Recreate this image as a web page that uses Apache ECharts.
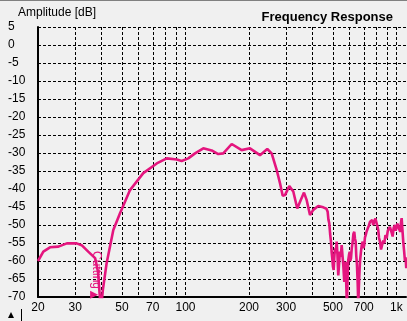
<!DOCTYPE html>
<html><head><meta charset="utf-8">
<script src="https://cdn.jsdelivr.net/npm/echarts@6/dist/echarts.min.js"></script>
<style>html,body{margin:0;padding:0;background:#f0f0f0}#c{width:407px;height:321px}</style>
</head><body><div id="c"></div>
<script>
const freq = [20,21.2,22.8,25.0,27.4,30.5,32.2,34.6,37.3,38.5,39.4,40.0,40.6,42.3,45.5,48.9,54.6,63.1,73.1,81.5,90.9,95.9,103.1,111,121.5,133.1,143,151.1,165.6,184.7,202.2,225.5,244.2,256.2,270.6,280.6,289,296.3,310.5,324.4,338.8,351.6,364.6,375.5,389.3,403.4,426,450,
  458.4,466,472,476,480.4,485,489.4,493,496.4,500,504,507.5,511.2,515,520.8,525,530,535,539.8,545,550,555,559.8,566,570,574.6,578,582.8,587,591.2,596,600.4,604,608.8,614,620.2,625,631.2,636,640.8,645,650,655,659.2,663,666.4,672,679,685,691.8,697,703.8,709,714.8,722,730.6,740,749.2,758,768.2,776,785,795,805.8,812,820,827,835.6,845,856.8,866,875.6,887,898.8,910,921.6,931,942,950,959.4,970,983.8,992,1002,1011,1020,1031,1042.6,1050,1058.6,1068,1077.2,1088,1097.2,1105,1113];
const amp = [-60,-57.4,-56.2,-56.0,-55.1,-55.1,-55.6,-57.4,-59.2,-63,-71,-72,-68,-60.6,-51.4,-46.8,-40.3,-35.6,-32.9,-31.5,-31.8,-32.2,-31.5,-30.1,-28.7,-29.3,-30.3,-30.1,-27.5,-29.2,-28.7,-30.6,-28.9,-30.1,-34.7,-38.4,-41.9,-41.7,-39.2,-40.7,-45.4,-43.1,-41.0,-43.1,-47.2,-45.8,-44.7,-45.1,
  -44.9,-45.5,-46.3,-48.5,-49.5,-52.5,-54.6,-57.5,-59.3,-61.5,-62.5,-59,-56.5,-57.8,-54.6,-58,-64,-60.5,-57.4,-58.8,-55.6,-58.5,-61.1,-65.8,-62.5,-60.2,-66,-73,-64,-59.7,-58.3,-57.4,-60,-59.3,-56.5,-54.6,-52.5,-51.9,-53.8,-54.6,-58.5,-61.1,-66,-72,-68,-64.4,-60,-57.4,-55.5,-54.6,-56.4,-55.6,-53.5,-52.8,-51.8,-51.0,-50.2,-49.1,-49.6,-48.6,-50,-49.5,-48.2,-48.6,-50.3,-51.4,-53.6,-54.6,-56.8,-56.5,-54.3,-55.1,-52.8,-53.7,-51.6,-51.9,-50.5,-51.0,-52.2,-53.2,-50.8,-50,-51.6,-51.4,-49.6,-49.1,-51.2,-51.9,-49.5,-48.1,-51.5,-54.6,-57.4,-60,-59,-62];
const xGridValues = [20,30,40,50,60,70,80,90,100,200,300,400,500,600,700,800,900,1000];
const xLabelValues = [20,30,50,70,100,200,300,500,700,1000];
const cutFreq = 38.0, cutAmp = -62.5, cutMarkFreq = 36.9, cutMarkAmp = -69.4;

const PINK = '#e4157e';
const FONT = 'Liberation Sans';
const chart = echarts.init(document.getElementById('c'), null, {renderer:'canvas'});
chart.setOption({
  backgroundColor: '#f0f0f0',
  animation: false,
  title: [
    {text:'Frequency Response', right: 9, top: 6, textStyle:{fontFamily:FONT, fontSize:13, fontWeight:'bold', color:'#000'}},
    {text:'Amplitude [dB]', left: 13, top: 2, textStyle:{fontFamily:FONT, fontSize:12, fontWeight:'normal', color:'#000'}}
  ],
  grid: {left:38, right:1, top:27, bottom:24, containLabel:false, outerBoundsMode:'none'},
  xAxis: {
    type:'log', logBase:10, min:20, max:1110,
    axisLine:{show:true, onZero:false, lineStyle:{color:'#000', width:2}},
    axisTick:{show:false, customValues: xGridValues},
    axisLabel:{customValues: xLabelValues, margin:5, fontFamily:FONT, fontSize:12, color:'#000',
      formatter: v => v >= 1000 ? (v/1000)+'k' : String(v)},
    splitLine:{show:true, lineStyle:{color:'#000', width:1, type:[3,2]}},
    minorTick:{show:false}, minorSplitLine:{show:false}
  },
  yAxis: {
    type:'value', min:-70, max:5, interval:5,
    axisLine:{show:true, lineStyle:{color:'#000', width:2}},
    axisTick:{show:false},
    axisLabel:{align:'left', margin:30, fontFamily:FONT, fontSize:12, color:'#000'},
    splitLine:{show:true, lineStyle:{color:'#000', width:1, type:[3,2]}}
  },
  series: [{
    type:'line', showSymbol:false, clip:true,
    data: freq.map((f,i)=>[f, amp[i]]),
    lineStyle:{color:PINK, width:2.6},
    itemStyle:{color:PINK},
    markPoint:{
      silent:true,
      data:[
        {coord:[cutMarkFreq, cutMarkAmp], symbol:'triangle', symbolRotate:-90, symbolSize:[8,8], itemStyle:{color:PINK}, label:{show:false}}
      ]
    }
  }],
  graphic: [
    {type:'rect', shape:{x:0, y:0, width:407, height:1}, style:{fill:'#808080'}},
    {type:'polygon', shape:{points:[[8,318],[14,318],[11,312]]}, style:{fill:'#000'}},
    {type:'rect', shape:{x:21, y:309, width:1, height:12}, style:{fill:'#000'}}
  ]
});
const p = chart.convertToPixel({seriesIndex:0}, [cutFreq, cutAmp]);
chart.setOption({graphic: [
  {type:'rect', shape:{x:0, y:0, width:407, height:1}, style:{fill:'#808080'}},
  {type:'polygon', shape:{points:[[8,318],[14,318],[11,312]]}, style:{fill:'#000'}},
  {type:'rect', shape:{x:21, y:309, width:1, height:12}, style:{fill:'#000'}},
  {type:'text', x:p[0], y:p[1], rotation:-Math.PI/2, z:10,
   style:{text:'Cutting', align:'center', verticalAlign:'middle', fill:PINK, font:'12px "Liberation Sans"'}}
]});
</script>
</body></html>
